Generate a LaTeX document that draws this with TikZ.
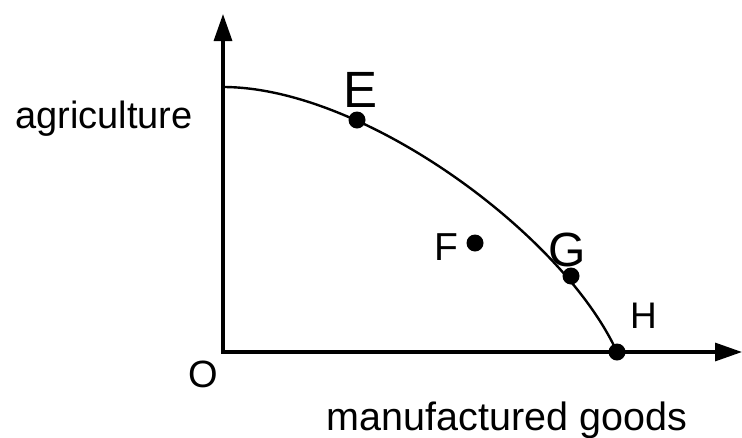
\documentclass[tikz,border=0pt]{standalone}
\usepackage{fontspec}
\setmainfont{Liberation Sans}
\usetikzlibrary{arrows.meta}
\begin{document}
\begin{tikzpicture}[x=1pt,y=-1pt,
  axis/.style={line width=3.2pt,-{Triangle[length=27pt,width=18pt]}},
  ppf/.style={line width=2.4pt},
  dot/.style={circle,fill=black,inner sep=0pt,minimum size=17pt},
  lbl/.style={anchor=base,inner sep=0pt,text=black}]
\useasboundingbox (0,0) rectangle (742,437);
\coordinate (O) at (223,352);
\coordinate (ytop) at (223,14);
\coordinate (xend) at (742,352);
\coordinate (start) at (223,87);
\draw[axis] ([yshift=-1.6pt]O) -- (ytop);
\draw[axis] ([xshift=-1.6pt]O) -- (xend);
\node[dot] (H) at (617,352) {};
\draw[ppf] (start) .. controls (363,87) and (563,234) .. (H.center);
\node[dot] (E) at (357,120) {};
\node[dot] (F) at (475,243) {};
\node[dot] (G) at (571,276) {};
\node[lbl,font=\fontsize{38pt}{40pt}\selectfont] (agri) at (104,128) {agriculture};
\node[lbl,font=\fontsize{39.5pt}{42pt}\selectfont] (manu) at (507,430) {manufactured goods};
\node[lbl,font=\fontsize{51pt}{54pt}\selectfont] (Elbl) at (361,107) {E};
\node[lbl,font=\fontsize{39pt}{42pt}\selectfont] (Flbl) at (446,260) {F};
\node[lbl,font=\fontsize{48pt}{50pt}\selectfont] (Glbl) at (567,266) {G};
\node[lbl,font=\fontsize{37pt}{39pt}\selectfont] (Hlbl) at (643.5,328) {H};
\node[lbl,font=\fontsize{38pt}{40pt}\selectfont] (Olbl) at (203,387) {O};
\end{tikzpicture}
\end{document}
